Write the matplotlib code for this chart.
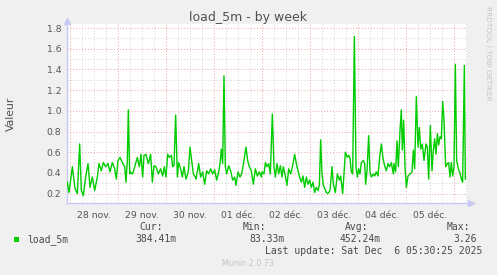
import matplotlib
matplotlib.use('Agg')
import matplotlib.pyplot as plt
from matplotlib.patches import Rectangle

# hours since 28 nov. 00:00
hours = [-1.33, -0.5, 1.17, 2.5, 3.67, 4.83, 5.67, 6.67, 7.83, 9, 10, 11.17, 12.33, 13.67, 14.5,
         15.67, 16.67, 17.83, 19, 20, 21.17, 22.33, 23.17, 24, 25, 26.17, 27.33, 28, 28.67, 29.17,
         29.83,
         30, 31.33, 32.5, 33.67, 34.67, 35.5, 36.33, 37, 38, 39.17, 40.33, 41.17, 42, 43, 44.17,
         45.33, 46.33, 47.17, 48, 48.83, 49.67, 50.67, 51.33, 52, 52.83, 53.67, 54.33, 55.33,
         56.17, 57, 58, 59.17, 60, 60.83, 61.67, 62.67,
         63, 64.33, 65.33, 66.33, 67.33, 68.33, 69.33, 70.33, 71.33, 72.33, 73.33, 74.33, 75,
         75.67, 76.33, 77, 77.67, 78.33, 79.33, 80.33, 81.33, 82.33, 83, 84, 85, 85.83, 86.83,
         88, 88.83, 89.67, 90.67, 91.67, 92.67, 93.67, 94.67, 95.67,
         96, 97, 97.67, 98.5, 99.33, 100.17, 101.17, 102, 102.67, 103.5, 104.33, 105.17, 106,
         106.67, 107.67, 108.5, 109.33, 110.33, 111.33, 112.33, 113.17, 114, 114.83, 115.67,
         116.5, 117.33, 118.17, 119, 119.83, 120.67, 121.5, 122.33, 123.17, 124, 124.67, 125.33,
         126, 126.67, 127.33, 128.17,
         129, 130, 131, 131.67, 132.67, 133.67, 134.67, 135.33, 136.33, 137, 137.67, 138.67,
         139.33, 140, 140.67, 141.33, 142.17, 143, 143.67, 144.33, 145, 145.67, 146.67, 147.33,
         147.83, 148.5, 149.33, 150, 150.67, 151.67, 152.33, 153.17, 154, 154.83, 155.67, 156.5,
         157.33, 158.17, 159, 159.83, 160.67, 161.67,
         162, 162.83, 163.5, 164.17, 165, 165.67, 166.17, 166.83, 167.5, 168.17, 169, 170, 171,
         171.67, 172.33, 173.17, 174, 174.67, 175.33, 176.17, 177, 178, 178.67, 179.33, 180.17,
         181, 181.67, 182.33, 183, 183.67, 184.33, 185, 185.67, 186.33, 187, 187.83, 188.67,
         189.33, 190, 190.67, 191.33, 192, 192.67, 193.33, 194.17, 194.83, 195.67, 196.33,
         197.17, 197.67]

load_5m = [0.31, 0.21, 0.46, 0.25, 0.20, 0.68, 0.23, 0.18, 0.36, 0.49, 0.26, 0.36, 0.23, 0.36, 0.49,
           0.42, 0.50, 0.46, 0.49, 0.41, 0.50, 0.44, 0.34, 0.52, 0.55, 0.50, 0.46, 0.31, 0.52, 1.01,
           0.39,
           0.41, 0.39, 0.47, 0.55, 0.46, 0.58, 0.36, 0.57, 0.58, 0.49, 0.58, 0.31, 0.47, 0.46, 0.39,
           0.44, 0.37, 0.46, 0.36, 0.58, 0.55, 0.57, 0.46, 0.47, 0.96, 0.36, 0.50, 0.44,
           0.36, 0.46, 0.34, 0.41, 0.65, 0.52, 0.39, 0.36,
           0.34, 0.49, 0.36, 0.41, 0.29, 0.42, 0.39, 0.44, 0.39, 0.43, 0.33, 0.41, 0.49,
           0.63, 0.49, 1.34, 0.46, 0.39, 0.47, 0.42, 0.33, 0.36, 0.28, 0.41, 0.36, 0.39, 0.50,
           0.65, 0.52, 0.46, 0.42, 0.29, 0.44, 0.37, 0.41, 0.36,
           0.41, 0.39, 0.50, 0.46, 0.49, 0.39, 0.97, 0.46, 0.36, 0.49, 0.39, 0.47, 0.36,
           0.46, 0.37, 0.28, 0.44, 0.39, 0.47, 0.58, 0.49, 0.42, 0.36, 0.31,
           0.37, 0.26, 0.36, 0.29, 0.33, 0.26, 0.31, 0.21, 0.26, 0.23, 0.28, 0.72,
           0.39, 0.28, 0.25, 0.21,
           0.20, 0.23, 0.46, 0.29, 0.21, 0.39, 0.33, 0.37, 0.20, 0.39, 0.60, 0.55,
           0.57, 0.54, 0.41, 0.39, 1.72, 0.46, 0.36, 0.44, 0.39, 0.50, 0.52, 0.49,
           0.29, 0.42, 0.76, 0.41, 0.36, 0.39, 0.37, 0.41, 0.37, 0.55, 0.68, 0.54,
           0.47, 0.42, 0.49, 0.46, 0.50, 0.39,
           0.49, 0.41, 0.71, 0.46, 0.81, 1.01, 0.62, 0.91, 0.46, 0.26, 0.37, 0.39, 0.41,
           0.62, 0.44, 1.14, 0.65, 0.84, 0.63, 0.68, 0.52, 0.68, 0.65, 0.34, 0.86,
           0.42, 0.62, 0.73, 0.58, 0.78, 0.67, 0.75, 0.73, 1.09, 0.91, 0.46, 0.49,
           0.50, 0.36, 0.50, 0.37, 0.46, 1.45, 0.52, 0.44, 0.41, 0.34, 0.31,
           1.44, 0.34]

day_label_hours = [12, 36, 60, 84, 108, 132, 156, 180]
day_labels = ["28 nov.", "29 nov.", "30 nov.", "01 déc.", "02 déc.", "03 déc.", "04 déc.", "05 déc."]
y_ticks = [0.2, 0.4, 0.6, 0.8, 1.0, 1.2, 1.4, 1.6, 1.8]
y_minor = [0.3, 0.5, 0.7, 0.9, 1.1, 1.3, 1.5, 1.7]

legend_name = "load_5m"
stats_headers = ["Cur:", "Min:", "Avg:", "Max:"]
stats_values = ["384.41m", "83.33m", "452.24m", "3.26"]
last_update = "Last update: Sat Dec  6 05:30:25 2025"

W, H = 497, 275
fig = plt.figure(figsize=(W / 100, H / 100), dpi=100, facecolor='#F0F0F0')
ax = fig.add_axes([67 / W, (H - 203) / H, 400 / W, 179 / H])
ax.set_facecolor('white')
ax.set_xlim(-1.5, 198.5)
ax.set_ylim(0.109, 1.84)

red = '#EBA5A5'
gray = '#D2D2D2'
dot = (0, (1, 2))
for h in range(0, 199, 6):
    if h % 24 == 0:
        ax.axvline(h, color=red, lw=0.7, ls=dot, zorder=1)
    else:
        ax.axvline(h, color=gray, lw=0.7, ls=dot, zorder=0.5)
for y in y_minor:
    ax.axhline(y, color=gray, lw=0.7, ls=dot, zorder=0.5)
for y in y_ticks:
    ax.axhline(y, color=red, lw=0.7, ls=dot, zorder=1)

ax.plot(hours, load_5m, color='#00CC00', lw=1.0, zorder=3)

ax.set_xticks(day_label_hours)
ax.set_xticklabels(day_labels)
ax.set_yticks(y_ticks)
ax.set_yticklabels([f"{v:.1f}" for v in y_ticks])
ax.tick_params(axis='both', length=0, labelsize=6.7, colors='#555555', pad=4)
ax.tick_params(axis='x', pad=6)

for s in ['top', 'right']:
    ax.spines[s].set_visible(False)
for s in ['left', 'bottom']:
    ax.spines[s].set_color('#C8C8F5')
    ax.spines[s].set_linewidth(1.0)
ax.plot([1.01], [0], marker='>', color='#C8C8F5', markersize=5, transform=ax.transAxes,
        clip_on=False)
ax.plot([0], [1.015], marker='^', color='#C8C8F5', markersize=5, transform=ax.transAxes,
        clip_on=False)

def fx(x):
    return x / W

def fy(y):
    return 1 - y / H

fig.text(fx(248), fy(17), "load_5m - by week", ha='center', va='center', fontsize=9,
         color='#505050')
fig.text(fx(11), fy(114), "Valeur", rotation=90, ha='center', va='center', fontsize=7.8,
         color='#505050')
fig.text(fx(488), fy(53), "RRDTOOL / TOBI OETIKER", rotation=270, ha='center', va='center',
         fontsize=5.3, color='#C4C4C4')

mono = dict(family='DejaVu Sans Mono', fontsize=7, color='#484848', va='center')
fig.patches.append(Rectangle((fx(14), fy(242)), 5 / W, 5 / H, transform=fig.transFigure,
                             facecolor='#00CC00', edgecolor='none'))
fig.text(fx(27), fy(239.5), legend_name, ha='left', **mono)
header_x = [163, 266, 368, 470]
value_x = [176, 285, 381, 477]
for hx, hd in zip(header_x, stats_headers):
    fig.text(fx(hx), fy(227.5), hd, ha='right', **mono)
for vx, vv in zip(value_x, stats_values):
    fig.text(fx(vx), fy(239.5), vv, ha='right', **mono)
fig.text(fx(482), fy(251), last_update, ha='right', **mono)
fig.text(fx(248), fy(264), "Munin 2.0.73", ha='center', va='center', fontsize=5.8,
         color='#C4C4C4')

fig.savefig('out.png', dpi=100, facecolor=fig.get_facecolor())
